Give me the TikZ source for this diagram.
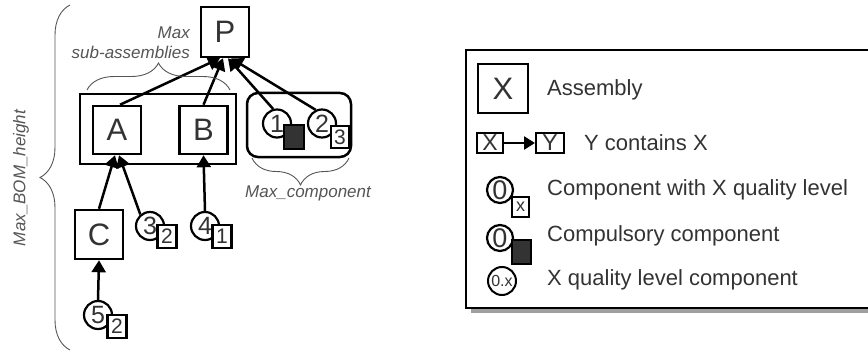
\documentclass[tikz,border=0pt]{standalone}
\usepackage{fontspec}
\setmainfont{Liberation Sans}
\usetikzlibrary{arrows.meta,decorations.pathreplacing,shapes.geometric}
\definecolor{txt}{HTML}{333333}
\definecolor{ann}{HTML}{555555}
\definecolor{blk}{HTML}{333333}
\tikzset{
  asm/.style={draw, line width=2.5pt, minimum width=48pt, minimum height=48pt, inner sep=0pt, text=txt, font=\fontsize{31}{31}\selectfont},
  comp/.style={circle, draw, line width=2.2pt, fill=white, minimum size=28pt, inner sep=0pt, text=txt, font=\fontsize{25}{25}\selectfont},
  ql/.style={draw, line width=2.2pt, fill=white, minimum width=19pt, minimum height=23pt, inner sep=0pt, text=txt, font=\fontsize{21}{21}\selectfont},
  blkbox/.style={draw, line width=2.2pt, fill=blk, minimum width=20pt, minimum height=24pt, inner sep=0pt},
  arr/.style={line width=2.5pt, -{Triangle[length=12pt,width=14pt]}},
  annot/.style={text=ann, font=\fontsize{17}{20}\selectfont\itshape, inner sep=0pt},
  legtxt/.style={text=txt, font=\fontsize{22}{26}\selectfont, inner sep=0pt, anchor=west},
  bracestyle/.style={draw=ann, line width=0.9pt, decorate, decoration={brace, amplitude=#1}},
}
\begin{document}
\begin{tikzpicture}[x=1pt,y=-1pt]
\useasboundingbox (0,0) rectangle (868,353);

% ---------- tree ----------
\node[asm, minimum height=50pt] (P) at (225,32) {P};
\draw[line width=2.5pt] (80,94) rectangle (236,164);
\node[asm] (A) at (117,130) {A};
\node[asm] (B) at (203.5,130) {B};
\node[asm, minimum height=49pt] (C) at (99,234.5) {C};

\draw[line width=2.5pt, rounded corners=11pt] (247,93) rectangle (351,157);
\node[comp] (c1) at (277,123.5) {1};
\node[blkbox] (s1) at (294,137) {};
\node[comp] (c2) at (322,123.5) {2};
\node[ql, minimum width=18pt, minimum height=22pt] (s2) at (340,137) {3};

\node[comp] (c3) at (150,226) {3};
\node[ql] (s3) at (167,236.5) {2};
\node[comp] (c4) at (205,226) {4};
\node[ql] (s4) at (222,236.5) {1};
\node[comp] (c5) at (98,315) {5};
\node[ql] (s5) at (117,326.5) {2};

\draw[arr] ([xshift=3pt]A.north) -- ([xshift=-5pt]P.south);
\draw[arr] (B.north) -- ([xshift=-2pt]P.south);
\draw[arr] (c1.105) -- ([xshift=3pt]P.south);
\draw[arr] (c2.115) -- ([xshift=6pt]P.south);
\draw[arr] (C.north) -- ([xshift=-2pt]A.south);
\draw[arr] (c3.130) -- ([xshift=2pt]A.south);
\draw[arr] (c4.north) -- (B.south);
\draw[arr] (c5.north) -- (C.south);

% ---------- braces and annotations ----------
\coordinate (bl1) at (87,90); \coordinate (br1) at (230,90);
\draw[bracestyle=27pt] (bl1) -- (br1);
\node[annot, anchor=east] (tmax) at (190,33) {Max};
\node[annot, anchor=east] (tsub) at (190,52) {sub-assemblies};

\coordinate (bl2) at (349,158); \coordinate (br2) at (252,158);
\draw[bracestyle=27pt] (bl2) -- (br2);
\node[annot, anchor=west] (tmc) at (245,193) {Max\_component};

\coordinate (bl3) at (70,350); \coordinate (br3) at (70,5);
\draw[bracestyle=30pt] (bl3) -- (br3);
\node[annot, rotate=90] (tbom) at (21,178) {Max\_BOM\_height};

% ---------- legend ----------
\fill[gray!75] (471,55) rectangle (880,313);
\draw[line width=1.6pt, fill=white] (466,50) rectangle (875,308);

\node[asm, minimum width=50pt, minimum height=49pt] (lx) at (503,88.5) {X};
\node[legtxt] (l1) at (547,90) {Assembly};

\node[draw, line width=2pt, minimum width=26pt, minimum height=20pt, inner sep=0pt, text=txt, font=\fontsize{23}{23}\selectfont] (lxs) at (490,143) {X};
\node[draw, line width=2pt, minimum width=28pt, minimum height=20pt, inner sep=0pt, text=txt, font=\fontsize{23}{23}\selectfont] (lys) at (550,143) {Y};
\draw[line width=2.5pt, -{Triangle[length=11pt,width=13pt]}] (lxs.east) -- (lys.west);
\node[legtxt] (l2) at (584,143) {Y contains X};

\node[comp, minimum size=26pt, font=\fontsize{27}{27}\selectfont] (lc1) at (500,190) {0};
\node[ql, minimum width=17pt, minimum height=20pt, font=\fontsize{18}{18}\selectfont] (lq1) at (520.5,207) {x};
\node[legtxt] (l3) at (547,190) {Component with X quality level};

\node[comp, minimum size=26pt, font=\fontsize{27}{27}\selectfont] (lc2) at (500,238) {0};
\node[blkbox, minimum width=19pt, minimum height=24pt] (lq2) at (521.5,252) {};
\node[legtxt] (l4) at (547,236) {Compulsory component};

\node[comp, minimum size=28pt, line width=2pt, font=\fontsize{16}{16}\selectfont] (lc3) at (502,281) {0.x};
\node[legtxt] (l5) at (547,280) {X quality level component};
\end{tikzpicture}
\end{document}
